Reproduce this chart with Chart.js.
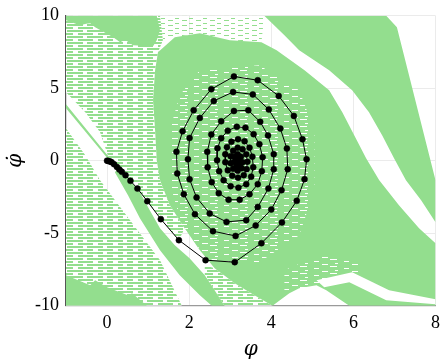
<!DOCTYPE html>
<html><head><meta charset="utf-8">
<script src="https://cdn.jsdelivr.net/npm/chart.js@4.4.1/dist/chart.umd.min.js"></script>
<style>html,body{margin:0;padding:0;background:#fff;}canvas{display:block;}</style>
</head><body>
<canvas id="c" width="440" height="364"></canvas>
<script>
// ---------- data ----------
const xTicks = [0, 2, 4, 6, 8];
const yTicks = [-10, -5, 0, 5, 10];

// trajectory (phi, phi-dot)
const phi = [0.00,0.03,0.07,0.11,0.17,0.24,0.30,0.36,0.45,0.57,0.74,0.98,1.31,1.75,
 2.40,3.11,3.76,4.26,4.62,4.81,4.86,4.76,4.55,4.18,3.67,3.09,2.54,2.11,1.84,1.69,1.71,1.87,2.14,2.58,3.13,3.62,4.00,4.25,4.40,4.38,4.22,3.94,3.55,3.07,2.60,2.26,2.01,1.97,2.01,2.18,2.50,2.91,3.39,3.67,3.93,4.06,4.06,3.92,3.73,3.44,3.09,
 2.78,2.54,2.44,2.45,2.55,2.72,2.96,3.23,3.47,3.67,3.77,3.79,3.71,3.57,3.37,3.16,2.94,2.78,2.69,
 2.68,2.73,2.84,3.01,3.20,3.39,3.51,3.56,3.54,3.47,3.35,3.19,3.03,2.92,2.88,
 2.88,2.94,3.05,3.19,3.33,3.40,3.42,3.39,3.30,3.18,3.07,3.01,
 3.01,3.07,3.18,3.28,3.30,3.26,3.18,3.11,3.10,3.15,3.22,3.23,3.18,3.16];
const phiDot = [0.00,-0.02,-0.05,-0.10,-0.24,-0.43,-0.61,-0.77,-1.00,-1.39,-1.92,-2.79,-4.03,-5.48,
 -6.86,-7.00,-5.69,-4.26,-2.77,-1.28,0.10,1.48,3.09,4.47,5.55,5.81,4.93,3.48,2.03,0.61,-0.88,-2.31,-3.69,-4.86,-5.19,-4.47,-3.37,-2.03,-0.59,0.84,2.22,3.53,4.57,4.74,4.12,2.95,1.57,0.10,-1.28,-2.54,-3.64,-4.22,-4.10,-3.19,-1.92,-0.59,0.45,1.74,2.68,3.48,3.43,
 2.72,1.81,0.61,-0.45,-1.48,-2.24,-2.69,-2.69,-2.31,-1.62,-0.72,0.24,1.14,1.83,2.28,2.34,2.07,1.55,0.86,
 0.03,-0.72,-1.34,-1.76,-1.86,-1.62,-1.10,-0.45,0.28,0.90,1.34,1.48,1.31,0.93,0.45,
 -0.10,-0.66,-1.03,-1.17,-1.00,-0.59,-0.07,0.45,0.79,0.90,0.69,0.31,
 -0.17,-0.55,-0.69,-0.52,-0.10,0.28,0.45,0.28,-0.07,-0.34,-0.31,-0.03,0.10,-0.03];

// basin regions, vertices as [phi, phiDot]
const topLeftBand = [[-1,10],[1.21,10],[1.29,9.0],[1.21,8.31],[1.12,7.90],[0.63,7.97],[0.44,8.34],[0.32,8.17],[0.15,8.52],[-0.29,9.21],[-0.41,9.48],[-0.51,9.45],[-0.66,9.34],[-1,9.69]];
const bottomLeftBand = [[-1,-7.90],[-0.41,-8.59],[-0.29,-8.24],[0,-8.72],[0.51,-9.28],[0.61,-9.14],[0.97,-10],[-1,-10]];
const upperRightBand = [[3.83,10],[6.80,10],[7.06,9.21],[8,-1.34],[8,-4.24],[7.65,-2.72],[7.28,-1.34],[6.99,0.17],[6.70,1.76],[6.38,3.34],[5.97,4.86],[5.41,6.24],[4.68,7.62],[4.32,8.66]];
const mainBasin = [[1.24,7.48],[1.65,8.52],[2.26,8.79],[2.99,8.31],[3.76,8.17],[4.13,7.62],[4.81,6.24],[5.41,4.86],[5.73,3.34],[6.02,1.76],[6.31,0.17],[6.63,-1.34],[7.11,-3.07],[7.60,-4.66],[8,-5.69],[8,-10],[5.90,-10],[5.34,-8.93],[5.10,-8.59],[4.68,-8.79],[4.44,-9.14],[4.03,-10],[3.59,-9.28],[3.11,-8.45],[2.62,-7.41],[2.26,-6.17],[1.89,-4.66],[1.53,-3.07],[1.29,-1.34],[1.21,0.03],[1.17,2.10],[1.12,4.17],[1.17,6.24]];
const lowerDiagBand = [[0.19,-0.79],[0.51,-2.38],[0.80,-3.97],[1.29,-6.17],[1.77,-7.90],[2.26,-9.28],[2.55,-10],[2.86,-10],[2.62,-8.93],[2.38,-7.90],[2.01,-6.72],[1.65,-5.83],[1.29,-4.66],[1.04,-3.41],[0.80,-2.17],[0.51,-1.21],[0.27,-0.52]];
const thinLine = [[-1,3.90],[0.07,0.17],[0.07,-0.03],[-1,3.62]];
const mixedUpper = [[-1,10],[1.29,10],[1.36,8.31],[1.24,7.48],[1.17,6.24],[1.12,4.17],[1.17,2.10],[1.21,0.03],[1.29,-1.34],[1.53,-3.07],[1.89,-4.66],[1.75,-5.48],[1.31,-4.03],[0.97,-2.79],[0.73,-1.90],[0.46,-1.0],[0.24,-0.45],[0.07,-0.03],[-0.17,1.97],[-0.53,3.34],[-1,4.72]];
const mixedLower = [[-1,2.24],[-0.53,0.38],[-0.17,-1.34],[0.56,-4.10],[1.29,-6.86],[1.82,-10],[-1,-10]];
const mixedBottom = [[2.38,-7.21],[2.62,-7.41],[3.11,-8.45],[3.59,-9.28],[4.03,-10],[2.86,-10],[2.62,-8.93],[2.38,-7.90]];
const sparseTop = [[1.29,10],[3.83,10],[3.76,8.17],[2.99,8.31],[2.26,8.79],[1.65,8.52],[1.36,8.31]];
const whiteStreak = [[5.10,-8.24],[5.97,-7.69],[6.87,-8.93],[8,-9.55],[8,-9.90],[6.80,-9.62],[5.90,-8.38],[5.29,-8.72]];
const spiralSpeckle = [[2.26,6.24],[3.71,6.59],[4.68,4.86],[5.05,2.10],[5.05,-2.03],[4.68,-5.14],[3.71,-7.0],[2.62,-7.0],[1.89,-5.14],[1.58,-2.03],[1.53,2.10],[1.77,4.52]];
const domeSpeckle = [[4.32,-7.55],[5.17,-6.52],[6.14,-7.0],[6.14,-8.24],[5.17,-8.59],[4.32,-9.07]];

// ---------- styles ----------
const GREEN = 'rgb(147,222,142)';
function makePattern(w, h, rects, color, bg) {
  const cv = document.createElement('canvas');
  cv.width = w; cv.height = h;
  const g = cv.getContext('2d');
  if (bg) { g.fillStyle = bg; g.fillRect(0, 0, w, h); }
  g.fillStyle = color;
  rects.forEach(r => g.fillRect(r[0], r[1], r[2], r[3]));
  return g.createPattern(cv, 'repeat');
}
const ctx = document.getElementById('c').getContext('2d');
const mixedFill = makePattern(20, 6, [[0,2,20,1],[0,5,20,1],[3,0,4,2],[13,3,5,2]], '#fff', GREEN);
const sparseFill = makePattern(14, 5, [[0,0,5,1],[7,3,4,1]], GREEN, null);
const speckleFill = makePattern(30, 7, [[0,0,7,1],[14,2,5,1],[22,5,6,1],[5,4,3,1]], '#fff', null);

function poly(pts, fillStyle, order) {
  return {
    type: 'line',
    data: pts.map(p => ({x: p[0], y: p[1]})),
    backgroundColor: fillStyle,
    borderColor: 'rgba(0,0,0,0)',
    borderWidth: 0,
    pointRadius: 0,
    pointHoverRadius: 0,
    fill: 'shape',
    order: order
  };
}

const datasets = [
  {
    type: 'line',
    data: phi.map((v, i) => ({x: v, y: phiDot[i]})),
    borderColor: '#000',
    borderWidth: 1,
    pointRadius: 3,
    pointBackgroundColor: '#000',
    pointBorderColor: '#000',
    pointBorderWidth: 0.5,
    fill: false,
    order: 0
  },
  poly(whiteStreak, '#fff', 20),
  poly(spiralSpeckle, speckleFill, 21),
  poly(domeSpeckle, speckleFill, 22),
  poly(mainBasin, GREEN, 50),
  poly(upperRightBand, GREEN, 51),
  poly(topLeftBand, GREEN, 52),
  poly(bottomLeftBand, GREEN, 53),
  poly(lowerDiagBand, GREEN, 54),
  poly(thinLine, GREEN, 55),
  poly(mixedUpper, mixedFill, 100),
  poly(mixedLower, mixedFill, 101),
  poly(mixedBottom, mixedFill, 102),
  poly(sparseTop, sparseFill, 103)
];

const tickFont = {family: "'Liberation Serif', serif", size: 18};

new Chart(ctx, {
  type: 'line',
  data: {datasets: datasets},
  options: {
    responsive: false,
    animation: false,
    events: [],
    layout: {padding: {top: 15.7, right: 3, left: 0, bottom: 0}},
    plugins: {legend: {display: false}, tooltip: {enabled: false}},
    scales: {
      x: {
        type: 'linear', min: -1, max: 8,
        afterBuildTicks: s => { s.ticks = xTicks.map(v => ({value: v})); },
        afterFit: s => { s.height = 58.3; s.paddingLeft = 0; s.paddingRight = 0; },
        grid: {color: '#ebebeb', drawTicks: false},
        border: {color: '#9a9a9a', width: 1.2},
        ticks: {font: tickFont, color: '#000', padding: 7, maxRotation: 0},
        title: {display: true, text: 'φ', color: '#000',
          font: {family: "'DejaVu Serif', serif", style: 'italic', size: 20},
          padding: {top: 0, bottom: 2}}
      },
      y: {
        type: 'linear', min: -10, max: 10,
        afterBuildTicks: s => { s.ticks = yTicks.map(v => ({value: v})); },
        afterFit: s => { s.width = 66; s.paddingTop = 0; s.paddingBottom = 0; },
        grid: {color: '#ebebeb', drawTicks: false},
        border: {color: '#555', width: 1.2},
        ticks: {font: tickFont, color: '#000', padding: 7},
        title: {display: true, text: 'φ̇', color: '#000',
          font: {family: "'DejaVu Serif', serif", style: 'italic', size: 20},
          padding: {top: 4, bottom: 0}}
      }
    }
  }
});
</script>
</body></html>
